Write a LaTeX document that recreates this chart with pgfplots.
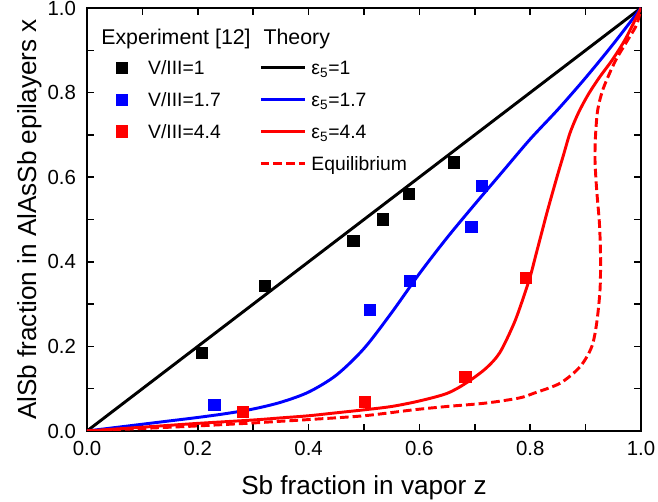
\documentclass[border=0pt]{standalone}
\usepackage{fontspec}
\setmainfont{Liberation Sans}
\usepackage{pgfplots}
\pgfplotsset{compat=1.18}

\definecolor{cblue}{RGB}{0,0,255}
\definecolor{cred}{RGB}{255,0,0}

% legend images: a square with room after it, and a short line with room on both sides
\pgfplotsset{
  sqlegend/.style={legend image code/.code={%
      \path[draw=none, fill=none] (0pt,0pt) -- (24.2pt,0pt);
      \draw[##1] plot coordinates {(4.5pt,0pt)};}},
  lnlegend/.style={legend image code/.code={%
      \path[draw=none, fill=none] (0pt,0pt) -- (68pt,0pt);
      \draw[##1] (30pt,0pt) -- (63pt,0pt);}},
}

\begin{document}
\begin{tikzpicture}
\begin{axis}[
  scale only axis, width=415.5pt, height=317.25pt,
  xmin=0, xmax=1, ymin=0, ymax=1,
  xtick={0,0.2,0.4,0.6,0.8,1.0},
  ytick={0,0.2,0.4,0.6,0.8,1.0},
  minor tick num=1,
  tick pos=both, xticklabel pos=lower, yticklabel pos=left,
  tick align=inside,
  major tick length=5pt, minor tick length=5pt,
  major tick style={black, line width=1.1pt},
  minor tick style={black, line width=1.1pt},
  axis line style={line width=1.5pt},
  /pgf/number format/fixed,
  /pgf/number format/fixed zerofill,
  /pgf/number format/precision=1,
  /pgf/number format/assume math mode=true,
  ticklabel style={font=\fontsize{15.3}{18}\selectfont},
  xticklabel style={yshift=-4pt},
  yticklabel style={xshift=-4.75pt},
  xlabel={Sb fraction in vapor z},
  ylabel={AlSb fraction in AlAsSb epilayers x},
  label style={font=\fontsize{19.6}{22}\selectfont},
  xlabel style={at={(axis description cs:0.5,-0.1513)}, anchor=base},
  ylabel style={at={(axis description cs:-0.092,0.5)}, anchor=base},
  legend columns=2,
  legend cell align=left,
  legend style={draw=none, fill=none, at={(axis description cs:0.0518,0.8754)},
    anchor=north west, inner sep=0pt, row sep=13.7pt, column sep=0pt,
    font=\fontsize{14.5}{17}\selectfont,
    nodes={inner sep=0pt, text height=10.2pt, text depth=0pt}},
]

% theory: epsilon_5 = 1
\addplot[black, line width=2.2pt, forget plot] coordinates {(0,0) (1,1)};

% theory: epsilon_5 = 1.7
\addplot[cblue, line width=2.2pt, smooth, forget plot] coordinates {
  (0,0) (0.05,0.008) (0.1,0.016) (0.15,0.024) (0.2,0.032) (0.25,0.041)
  (0.3,0.052) (0.35,0.068) (0.4,0.092) (0.45,0.132) (0.5,0.195)
  (0.55,0.280) (0.6,0.372) (0.65,0.457) (0.7,0.536) (0.75,0.613)
  (0.8,0.690) (0.85,0.760) (0.9,0.835) (0.95,0.915) (1,1)};

% theory: epsilon_5 = 4.4
\addplot[cred, line width=2.2pt, smooth, forget plot] coordinates {
  (0,0) (0.1,0.009) (0.2,0.018) (0.3,0.026) (0.35,0.031) (0.4,0.036)
  (0.45,0.043) (0.5,0.050) (0.55,0.058) (0.6,0.071) (0.65,0.089)
  (0.685,0.114) (0.72,0.148) (0.745,0.185) (0.77,0.252) (0.785,0.305)
  (0.80,0.365) (0.81,0.415) (0.82,0.465) (0.83,0.515) (0.84,0.562)
  (0.85,0.608) (0.86,0.652) (0.872,0.705) (0.887,0.752) (0.905,0.796)
  (0.925,0.836) (0.948,0.877) (0.972,0.927) (1,1)};

% equilibrium
\addplot[cred, line width=2.2pt, dash pattern=on 6.5pt off 3pt, smooth, forget plot] coordinates {
  (0,0) (0.1,0.006) (0.2,0.012) (0.3,0.019) (0.35,0.023) (0.4,0.027)
  (0.5,0.036) (0.589,0.050) (0.65,0.058) (0.72,0.066) (0.78,0.078)
  (0.806,0.089) (0.854,0.113) (0.89,0.152) (0.911,0.199) (0.920,0.255)
  (0.926,0.333) (0.927,0.41) (0.925,0.49) (0.920,0.57) (0.917,0.64)
  (0.918,0.70) (0.922,0.76) (0.932,0.81) (0.953,0.873) (0.974,0.92)
  (0.992,0.96) (1,1)};

% experiment [12]
\addplot[only marks, mark=square*, mark size=4.2pt, black, mark options={line width=0.6pt}, forget plot]
  coordinates {(0.208,0.185) (0.321,0.343) (0.481,0.449) (0.534,0.500) (0.581,0.560) (0.662,0.635)};
\addplot[only marks, mark=square*, mark size=4.2pt, cblue, mark options={line width=0.6pt}, forget plot]
  coordinates {(0.230,0.061) (0.510,0.286) (0.583,0.355) (0.694,0.483) (0.713,0.579)};
\addplot[only marks, mark=square*, mark size=4.2pt, cred, mark options={line width=0.6pt}, forget plot]
  coordinates {(0.282,0.046) (0.502,0.069) (0.683,0.128) (0.792,0.362)};

% legend
\addlegendimage{only marks, mark=square*, mark size=4.2pt, black, mark options={line width=0.6pt}, sqlegend}
\addlegendentry{V/III=1}
\addlegendimage{black, line width=2.2pt, lnlegend}
\addlegendentry{ε\textsubscript{5}=1}
\addlegendimage{only marks, mark=square*, mark size=4.2pt, cblue, mark options={line width=0.6pt}, sqlegend}
\addlegendentry{V/III=1.7}
\addlegendimage{cblue, line width=2.2pt, lnlegend}
\addlegendentry{ε\textsubscript{5}=1.7}
\addlegendimage{only marks, mark=square*, mark size=4.2pt, cred, mark options={line width=0.6pt}, sqlegend}
\addlegendentry{V/III=4.4}
\addlegendimage{cred, line width=2.2pt, lnlegend}
\addlegendentry{ε\textsubscript{5}=4.4}
\addlegendimage{empty legend}
\addlegendentry{}
\addlegendimage{cred, line width=2.2pt, dash pattern=on 6.5pt off 3pt, lnlegend}
\addlegendentry{Equilibrium}

\node[anchor=base west, font=\fontsize{16}{19}\selectfont, inner sep=0pt]
  at (axis cs:0.0253,0.9142) {Experiment [12]};
\node[anchor=base west, font=\fontsize{16}{19}\selectfont, inner sep=0pt]
  at (axis cs:0.3182,0.9142) {Theory};
\end{axis}
\pgfresetboundingbox
\path ([shift={(-65.25pt,-53.25pt)}]current axis.south west)
  rectangle ([shift={(12.75pt,6pt)}]current axis.north east);
\end{tikzpicture}
\end{document}
